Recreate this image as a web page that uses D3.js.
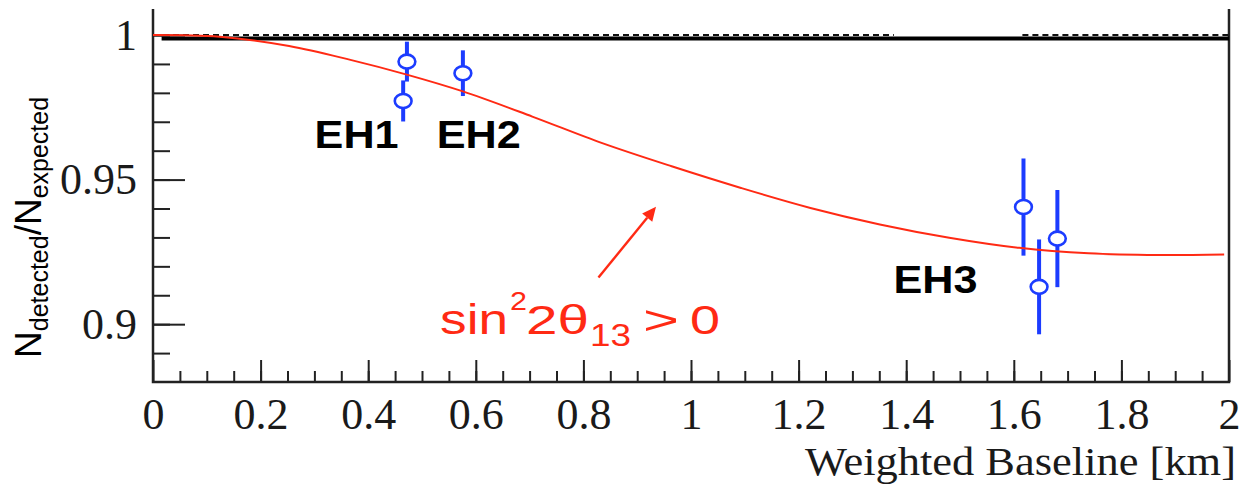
<!DOCTYPE html>
<html>
<head>
<meta charset="utf-8">
<script src="https://cdn.jsdelivr.net/npm/d3@7/dist/d3.min.js"></script>
<style>
  body { margin: 0; background: #fff; }
  svg { display: block; }
</style>
</head>
<body>
<svg id="chart"></svg>
<script>
// measured points: one per detector, grouped by hall
var pointHall = ["EH1", "EH1", "EH2", "EH3", "EH3", "EH3"];
var pointBaseline = [0.472, 0.465, 0.576, 1.618, 1.647, 1.681];
var pointRatio = [0.9908, 0.9772, 0.9868, 0.9405, 0.9129, 0.9296];
var pointError = [0.0069, 0.0071, 0.0079, 0.0168, 0.0164, 0.0168];

// red expectation curve
var curveBaseline = [0, 0.124, 0.253, 0.367, 0.470, 0.576, 0.705, 0.835, 0.964, 1.093, 1.222, 1.351, 1.480, 1.610, 1.739, 1.868, 1.991];
var curveRatio = [1.0, 0.9994, 0.9962, 0.9914, 0.9864, 0.9805, 0.9718, 0.9626, 0.9546, 0.9471, 0.9402, 0.9345, 0.9299, 0.9264, 0.9245, 0.9239, 0.9241];

// no-oscillation lines at the top
var dashSpans = [[0, 1.377], [1.616, 2]];
var solidLevel = 0.9988;

// hall labels
var hallNames = ["EH1", "EH2", "EH3"];
var hallSpots = [[0.305, 0.9609], [0.532, 0.9609], [1.381, 0.9109]];

// ticks
var xTicks = [0, 0.2, 0.4, 0.6, 0.8, 1, 1.2, 1.4, 1.6, 1.8, 2];
var xTickLabels = ["0", "0.2", "0.4", "0.6", "0.8", "1", "1.2", "1.4", "1.6", "1.8", "2"];
var yTicks = [0.9, 0.95, 1];
var yTickLabels = ["0.9", "0.95", "1"];

var svgWidth = 1243, svgHeight = 485;
var margin = { top: 9, right: 14, bottom: 103, left: 153 };
var width = svgWidth - margin.left - margin.right;
var height = svgHeight - margin.top - margin.bottom;

var blue = "#1c3cff", red = "#ff2a14", ink = "#1a1a1a";
var serif = "'Liberation Serif', 'Times New Roman', Times, serif";
var sans = "'Liberation Sans', Arial, Helvetica, sans-serif";

var x = d3.scaleLinear().domain([0, 2]).range([0, width]);
var y = d3.scaleLinear().domain([0.88, 1.009]).range([height, 0]);

var svg = d3.select("#chart")
    .attr("width", svgWidth)
    .attr("height", svgHeight);
var g = svg.append("g")
    .attr("transform", "translate(" + margin.left + "," + margin.top + ")");

var xMinor = d3.range(1, 40).map(function(i) { return i * 0.05; });
var yMinor = d3.range(1, 13).map(function(i) { return 0.88 + i * 0.01; });

function styleAxis(sel) {
  sel.select(".domain").remove();
  sel.selectAll(".tick line").attr("stroke", "#222").attr("stroke-width", 2);
  sel.selectAll(".tick text")
      .attr("fill", ink)
      .style("font-family", serif)
      .style("font-size", "44px");
}

g.append("g")
    .attr("transform", "translate(0," + height + ")")
    .call(d3.axisBottom(x).tickValues(xMinor).tickSize(-11).tickFormat(""))
    .call(styleAxis);
g.append("g")
    .attr("transform", "translate(0," + height + ")")
    .call(d3.axisBottom(x).tickValues(xTicks).tickSize(-22).tickPadding(16)
      .tickFormat(function(d, i) { return xTickLabels[i]; }))
    .call(styleAxis);
g.append("g")
    .call(d3.axisLeft(y).tickValues(yMinor).tickSize(-17).tickFormat(""))
    .call(styleAxis);
g.append("g")
    .call(d3.axisLeft(y).tickValues(yTicks).tickSize(-32).tickPadding(16)
      .tickFormat(function(d, i) { return yTickLabels[i]; }))
    .call(styleAxis);

// frame: left, bottom, right
g.append("path")
    .attr("d", "M0,0V" + height + "H" + width + "V0")
    .attr("fill", "none")
    .attr("stroke", "#222")
    .attr("stroke-width", 2.5);

// reference lines at 1
g.selectAll(".dash")
    .data(dashSpans)
  .enter().append("line")
    .attr("x1", function(d) { return x(d[0]); })
    .attr("x2", function(d) { return x(d[1]); })
    .attr("y1", y(1)).attr("y2", y(1))
    .attr("stroke", "#111")
    .attr("stroke-width", 2)
    .attr("stroke-dasharray", "6,4");
g.append("line")
    .attr("x1", x(0.016)).attr("x2", x(2))
    .attr("y1", y(solidLevel)).attr("y2", y(solidLevel))
    .attr("stroke", "#000")
    .attr("stroke-width", 4);

// error bars + markers
var pts = pointBaseline.map(function(b, i) {
  return { hall: pointHall[i], L: b, r: pointRatio[i], e: pointError[i] };
});
g.selectAll(".bar")
    .data(pts)
  .enter().append("line")
    .attr("x1", function(d) { return x(d.L); })
    .attr("x2", function(d) { return x(d.L); })
    .attr("y1", function(d) { return y(d.r + d.e); })
    .attr("y2", function(d) { return y(d.r - d.e); })
    .attr("stroke", blue)
    .attr("stroke-width", 4);

var curveData = curveBaseline.map(function(b, i) { return { L: b, r: curveRatio[i] }; });
var line = d3.line()
    .x(function(d) { return x(d.L); })
    .y(function(d) { return y(d.r); })
    .curve(d3.curveCatmullRom.alpha(0.5));
g.append("path")
    .datum(curveData)
    .attr("fill", "none")
    .attr("stroke", red)
    .attr("stroke-width", 2)
    .attr("d", line);

g.selectAll(".pt")
    .data(pts)
  .enter().append("ellipse")
    .attr("cx", function(d) { return x(d.L); })
    .attr("cy", function(d) { return y(d.r); })
    .attr("rx", 8.4)
    .attr("ry", 7)
    .attr("fill", "#fff")
    .attr("stroke", blue)
    .attr("stroke-width", 2.6);

// hall names
g.selectAll(".hall")
    .data(hallNames)
  .enter().append("text")
    .attr("x", function(d, i) { return x(hallSpots[i][0]) - 2.5; })
    .attr("y", function(d, i) { return y(hallSpots[i][1]); })
    .style("font-family", sans)
    .attr("font-weight", "bold")
    .attr("font-size", 39)
    .attr("textLength", 84)
    .attr("lengthAdjust", "spacingAndGlyphs")
    .attr("fill", "#000")
    .text(function(d) { return d; });

// annotation: sin^2 2theta_13 > 0 with arrow
var ax = x(0.5373), ay = y(0.8966);
var pieces = [
  { t: "sin", dx: -2, dy: 0, size: 42, len: 68 },
  { t: "2", dx: 68, dy: -24, size: 26, len: 17 },
  { t: "2\u03b8", dx: 84, dy: 0, size: 40, len: 63 },
  { t: "13", dx: 148, dy: 12, size: 32, len: 41 },
  { t: ">", dx: 201, dy: 0, size: 40, len: 36 },
  { t: "0", dx: 248, dy: 0, size: 40, len: 30 }
];
g.selectAll(".ann")
    .data(pieces)
  .enter().append("text")
    .attr("x", function(d) { return ax + d.dx; })
    .attr("y", function(d) { return ay + d.dy; })
    .style("font-family", sans)
    .attr("font-size", function(d) { return d.size; })
    .attr("textLength", function(d) { return d.len; })
    .attr("lengthAdjust", "spacingAndGlyphs")
    .attr("fill", red)
    .text(function(d) { return d.t; });

var a0 = [x(0.828), y(0.9161)], a1 = [x(0.935), y(0.9406)];
var ang = Math.atan2(a1[1] - a0[1], a1[0] - a0[0]);
var hl = 14, hw = 6.5;
var bx = a1[0] - hl * Math.cos(ang), by = a1[1] - hl * Math.sin(ang);
g.append("line")
    .attr("x1", a0[0]).attr("y1", a0[1])
    .attr("x2", bx).attr("y2", by)
    .attr("stroke", red)
    .attr("stroke-width", 2.4);
g.append("path")
    .attr("d", "M" + a1[0] + "," + a1[1] +
      "L" + (bx + hw * Math.sin(ang)) + "," + (by - hw * Math.cos(ang)) +
      "L" + (bx - hw * Math.sin(ang)) + "," + (by + hw * Math.cos(ang)) + "Z")
    .attr("fill", red);

// axis titles
svg.append("text")
    .attr("x", 1236)
    .attr("y", 475)
    .attr("text-anchor", "end")
    .style("font-family", serif)
    .attr("font-size", 40)
    .attr("textLength", 431)
    .attr("lengthAdjust", "spacingAndGlyphs")
    .attr("fill", ink)
    .text("Weighted Baseline [km]");

var yt = svg.append("text")
    .attr("transform", "translate(41,358) rotate(-90)")
    .style("font-family", sans)
    .attr("font-size", 37)
    .attr("fill", "#000");
yt.append("tspan").text("N");
yt.append("tspan").attr("dy", 7).attr("font-size", 25).text("detected");
yt.append("tspan").attr("dy", -7).text("/N");
yt.append("tspan").attr("dy", 7).attr("font-size", 25).text("expected");
</script>
</body>
</html>
